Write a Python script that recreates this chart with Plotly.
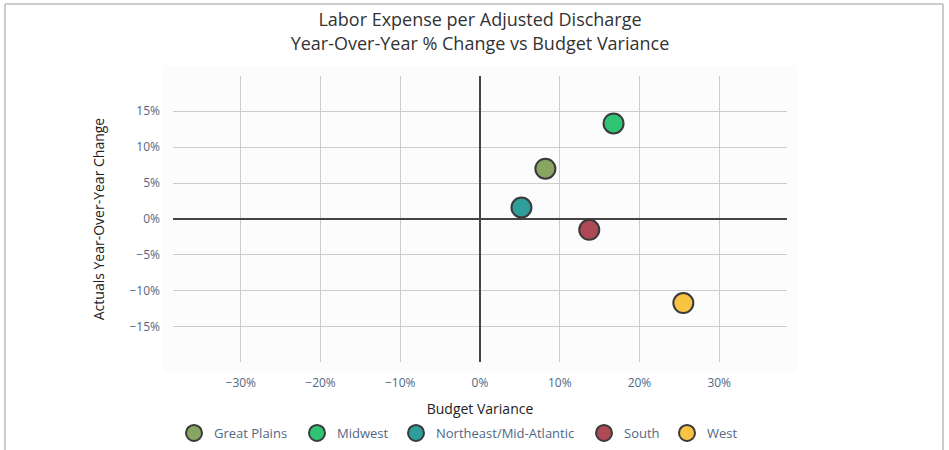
import plotly.graph_objects as go

regions = ["Great Plains", "Midwest", "Northeast/Mid-Atlantic", "South", "West"]
budget_variance = [0.082, 0.1675, 0.052, 0.137, 0.255]
yoy_change = [0.070, 0.133, 0.016, -0.015, -0.117]
colors = ["#88A562", "#2EC474", "#2E9E9B", "#AE4A55", "#F9C444"]

W, H = 949, 450
ML, MR, MT, MB = 173, 162, 76, 88
pw = W - ML - MR
ph = H - MT - MB

# legend entry marker centres (px) in the page
legend_px = [194, 317, 416, 604, 687]


def px_x(p):
    return (p - ML) / pw


def px_y(p):
    return (H - MB - p) / ph


fig = go.Figure()
legend_layout = {}
for i, (name, xv, yv, c) in enumerate(zip(regions, budget_variance, yoy_change, colors)):
    key = "legend" if i == 0 else f"legend{i + 1}"
    fig.add_trace(go.Scatter(
        x=[xv], y=[yv], mode="markers", name=name, legend=key,
        marker=dict(size=20, color=c, line=dict(color="#3a3a3a", width=2)),
    ))
    legend_layout[key] = dict(orientation="h", xref="container", x=(legend_px[i] - 20) / W,
                              xanchor="left", yref="container", y=1 - 433 / H, yanchor="middle",
                              bgcolor="rgba(0,0,0,0)",
                              font=dict(size=13, color="#506784"))

# plot-area background (padded) and outer frame
fig.add_shape(type="rect", xref="paper", yref="paper", layer="below",
              x0=px_x(163), x1=px_x(797), y0=px_y(372), y1=px_y(66),
              fillcolor="#FCFCFC", line=dict(width=0))
fig.add_shape(type="rect", xref="paper", yref="paper",
              x0=px_x(5), x1=px_x(943), y0=px_y(470), y1=px_y(4),
              line=dict(color="#9a9a9a", width=1), fillcolor="rgba(0,0,0,0)")

fig.update_layout(
    width=W, height=H,
    margin=dict(l=ML, r=MR, t=MT, b=MB, autoexpand=False),
    paper_bgcolor="white", plot_bgcolor="rgba(0,0,0,0)",
    font=dict(family="Open Sans", size=12, color="#506784"),
    title=dict(text="Labor Expense per Adjusted Discharge<br>Year-Over-Year % Change vs Budget Variance",
               x=0.5, xref="paper", y=0.942, yref="container", xanchor="center", yanchor="top",
               font=dict(size=18, color="#333333")),
    showlegend=True,
    xaxis=dict(range=[-0.385, 0.385], tickformat=".0%", dtick=0.1, tick0=0,
               showgrid=True, gridcolor="#CCCCCC", gridwidth=1,
               zeroline=True, zerolinecolor="#444444", zerolinewidth=2,
               showline=False, ticks="", automargin=False, ticklabelstandoff=12,
               title=dict(text="Budget Variance", font=dict(size=14, color="#222222"), standoff=15)),
    yaxis=dict(range=[-0.199, 0.199], tickformat=".0%", dtick=0.05, tick0=0,
               showgrid=True, gridcolor="#CCCCCC", gridwidth=1,
               zeroline=True, zerolinecolor="#444444", zerolinewidth=2,
               showline=False, ticks="", automargin=False, ticklabelstandoff=12,
               title=dict(text="Actuals Year-Over-Year Change", font=dict(size=14, color="#222222"), standoff=21)),
    **legend_layout,
)

fig.write_html("out.html", config={"displayModeBar": False},
               post_script="document.body.style.margin='0px';document.body.style.overflow='hidden';")
